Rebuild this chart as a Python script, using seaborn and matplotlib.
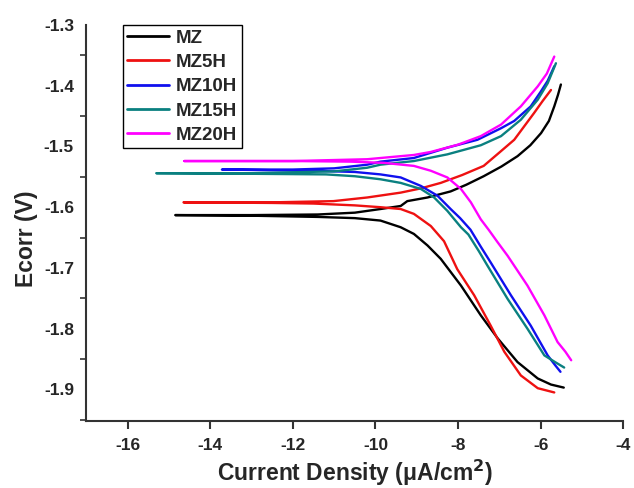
import numpy as np
import pandas as pd
import matplotlib
matplotlib.use("Agg")
import matplotlib.pyplot as plt
import seaborn as sns
from matplotlib.ticker import MultipleLocator
from matplotlib.lines import Line2D

series_names = ["MZ", "MZ5H", "MZ10H", "MZ15H", "MZ20H"]
colors = ["#000000", "#ee1111", "#1010ee", "#0a8080", "#ff00ff"]

# Each curve traced from cathodic end (bottom right) to Ecorr (left) then anodic end (top right)
mz_x = [-5.44, -5.75, -6.07, -6.56, -7.04, -7.45, -7.93, -8.42, -8.74, -9.07, -9.39, -9.88, -10.5, -11.4, -13.0, -14.85,
        -13.0, -11.4, -10.5, -9.88, -9.39, -9.23, -8.74, -8.18, -7.8, -7.38, -6.95, -6.56, -6.25,
        -5.99, -5.80, -5.67, -5.58, -5.51]
mz_y = [-1.897, -1.892, -1.882, -1.855, -1.816, -1.778, -1.729, -1.685, -1.663, -1.644, -1.633, -1.622, -1.618, -1.616, -1.614, -1.613,
        -1.613, -1.612, -1.609, -1.603, -1.598, -1.590, -1.584, -1.574, -1.563, -1.549, -1.533, -1.516, -1.498,
        -1.478, -1.458, -1.434, -1.415, -1.398]

mz5_x = [-5.67, -6.07, -6.48, -6.88, -7.21, -7.61, -8.02, -8.34, -8.66, -9.07, -9.39, -9.88, -10.5, -11.5, -12.5, -14.65,
         -12.5, -11.02, -10.2, -9.39, -8.9, -8.42, -7.9, -7.38, -7.0, -6.64, -6.40, -6.16, -5.95, -5.75]
mz5_y = [-1.905, -1.898, -1.877, -1.838, -1.795, -1.745, -1.702, -1.656, -1.631, -1.611, -1.603, -1.600, -1.597, -1.594, -1.593, -1.592,
         -1.592, -1.590, -1.584, -1.576, -1.569, -1.560, -1.547, -1.532, -1.510, -1.489, -1.467, -1.445, -1.425, -1.407]

mz10_x = [-5.52, -5.65, -5.83, -6.24, -6.72, -7.21, -7.45, -7.70, -7.95, -8.18, -8.50, -8.90, -9.39, -9.88, -10.5, -11.5, -13.72,
          -12.0, -11.0, -10.2, -9.88, -9.07, -8.26, -7.53, -6.96, -6.64, -6.24, -6.0, -5.83, -5.67]
mz10_y = [-1.871, -1.860, -1.844, -1.795, -1.745, -1.691, -1.665, -1.637, -1.618, -1.603, -1.581, -1.565, -1.551, -1.546, -1.542, -1.540, -1.538,
          -1.538, -1.536, -1.530, -1.525, -1.519, -1.502, -1.489, -1.470, -1.458, -1.434, -1.410, -1.392, -1.368]

mz15_x = [-5.43, -5.65, -5.91, -6.32, -6.80, -7.29, -7.50, -7.75, -7.93, -8.26, -8.58, -8.90, -9.39, -9.88, -10.5, -11.2, -13.0, -15.31,
          -13.0, -11.0, -10.2, -9.88, -9.07, -8.26, -7.45, -6.96, -6.48, -6.07, -5.83, -5.63]
mz15_y = [-1.864, -1.855, -1.844, -1.800, -1.751, -1.696, -1.672, -1.645, -1.633, -1.606, -1.584, -1.570, -1.560, -1.554, -1.549, -1.546, -1.545, -1.544,
          -1.544, -1.541, -1.535, -1.530, -1.524, -1.513, -1.498, -1.483, -1.456, -1.423, -1.396, -1.363]

mz20_x = [-5.26, -5.40, -5.59, -5.91, -6.32, -6.80, -7.05, -7.25, -7.45, -7.69, -7.93, -8.26, -8.66, -9.07, -9.8, -10.6, -12.0, -14.63,
          -12.0, -10.2, -9.07, -8.66, -8.0, -7.45, -6.96, -6.48, -6.07, -5.85, -5.67]
mz20_y = [-1.852, -1.838, -1.822, -1.778, -1.729, -1.680, -1.657, -1.638, -1.620, -1.592, -1.570, -1.551, -1.540, -1.532, -1.527, -1.525, -1.524, -1.524,
          -1.524, -1.521, -1.514, -1.509, -1.497, -1.483, -1.464, -1.434, -1.401, -1.380, -1.352]

xs = [mz_x, mz5_x, mz10_x, mz15_x, mz20_x]
ys = [mz_y, mz5_y, mz10_y, mz15_y, mz20_y]

frames = []
for name, x, y in zip(series_names, xs, ys):
    frames.append(pd.DataFrame({"x": x, "y": y, "series": name}))
df = pd.concat(frames, ignore_index=True)

sns.set_style("ticks")
plt.rcParams["font.family"] = ["Liberation Sans", "DejaVu Sans"]
plt.rcParams["font.weight"] = "bold"
plt.rcParams["axes.unicode_minus"] = False
plt.rcParams["mathtext.default"] = "regular"

fig = plt.figure(figsize=(6.34, 4.88), dpi=100)
ax = fig.add_axes([0.1364, 0.1373, 0.983 - 0.1364, 0.9488 - 0.1373])

sns.lineplot(data=df, x="x", y="y", hue="series", hue_order=series_names,
             palette=colors, sort=False, estimator=None, units="series",
             linewidth=1.7, ax=ax, legend=False)

ax.set_xlim(-17, -4)
ax.set_ylim(-1.952, -1.3)
ax.xaxis.set_major_locator(MultipleLocator(2))
ax.yaxis.set_minor_locator(MultipleLocator(0.05))
yt = np.round(np.arange(-1.9, -1.29, 0.1), 2)
ax.set_yticks(yt)
ax.set_yticklabels([f"{v:.1f}" for v in yt])

for s in ["top", "right"]:
    ax.spines[s].set_visible(False)
for s in ["left", "bottom"]:
    ax.spines[s].set_color("#333333")
    ax.spines[s].set_linewidth(1.5)

ax.tick_params(axis="x", which="major", direction="out", length=6, width=1.5, color="#333333",
               labelsize=12.5, pad=6)
ax.tick_params(axis="y", which="major", length=0, labelsize=12.5, pad=9)
ax.tick_params(axis="y", which="minor", direction="out", length=4, width=1.2, color="#333333")
for lab in ax.get_xticklabels() + ax.get_yticklabels():
    lab.set_fontweight("bold")

ax.set_xlabel("Current Density (\u03bcA/cm$^\\mathbf{2}$)", fontsize=16.5, fontweight="bold", labelpad=4)
ax.set_ylabel("Ecorr (V)", fontsize=16.5, fontweight="bold")
ax.yaxis.set_label_coords(-0.09, 0.46)

handles = [Line2D([0], [0], color=c, lw=2) for c in colors]
leg = ax.legend(handles, series_names, loc="upper left", bbox_to_anchor=(0.0674, 1.0),
                borderaxespad=0, frameon=True, fancybox=False, framealpha=1,
                edgecolor="black", prop={"weight": "bold", "size": 13.5},
                handlelength=2.2, handletextpad=0.4, labelspacing=0.38, borderpad=0.25)
leg.get_frame().set_linewidth(1.0)

fig.savefig("out.png", dpi=100)
